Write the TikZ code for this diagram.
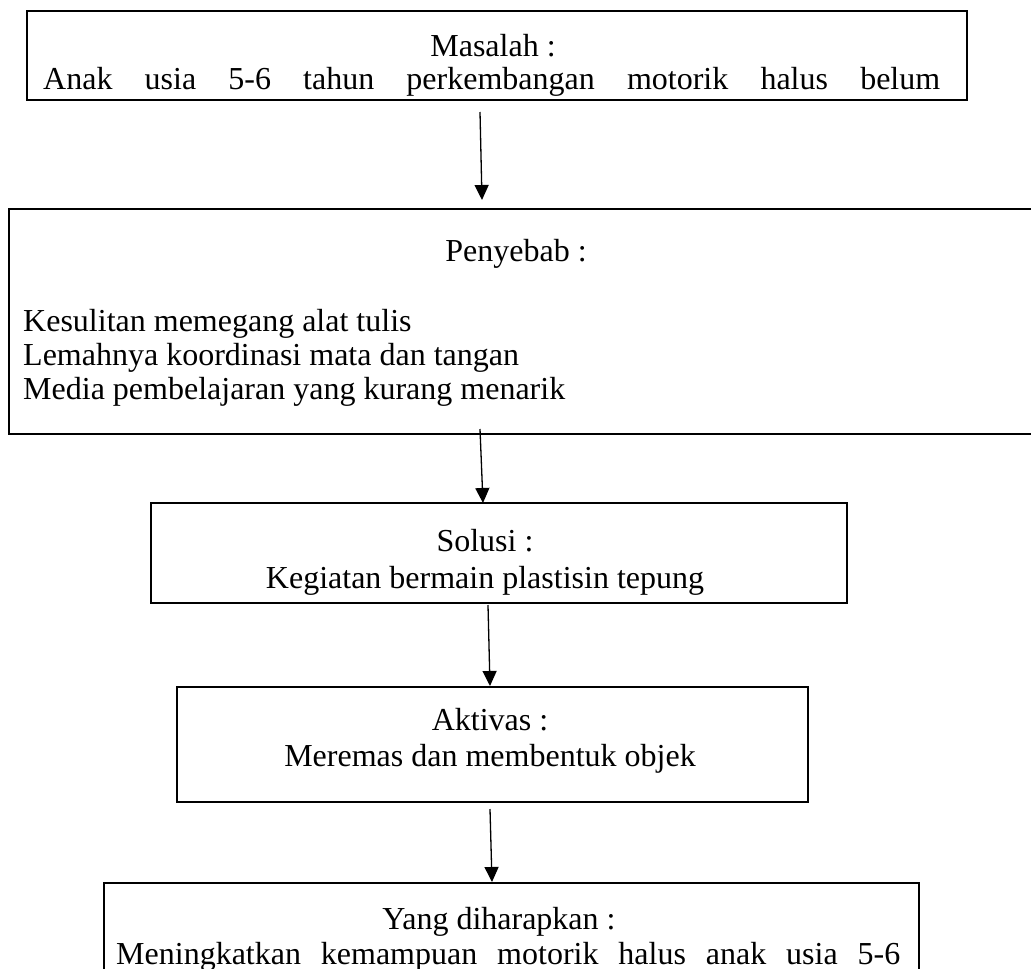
\documentclass[tikz,border=0pt]{standalone}
\usepackage{fontspec}
\setmainfont{Liberation Serif}
\usetikzlibrary{arrows.meta}
\tikzset{
  boxline/.style={draw=black, line width=1.6pt, inner sep=0pt, anchor=north west},
  txt/.style={inner sep=0pt, font=\fontsize{32}{37}\selectfont},
  flow/.style={draw=black, line width=1.3pt, -{Triangle[width=14pt,length=15pt]}}
}
\begin{document}
\begin{tikzpicture}[x=1pt,y=-1pt]
\useasboundingbox (0,0) rectangle (1031,969);
% boxes
\node[boxline, minimum width=940pt, minimum height=89pt] (masalah) at (26,10) {};
\node[boxline, minimum width=1040pt, minimum height=225pt] (penyebab) at (8,208) {};
\node[boxline, minimum width=696pt, minimum height=100pt] (solusi) at (150,502) {};
\node[boxline, minimum width=631pt, minimum height=115pt] (aktivas) at (176,686) {};
\node[boxline, minimum width=815pt, minimum height=120pt] (harap) at (103,882) {};
% texts
\node[txt, anchor=base] (t1) at (493,56) {Masalah :};
\node[txt, anchor=base west] (t2) at (43,89) {\hbox to 897pt{Anak\hfil usia\hfil 5-6\hfil tahun\hfil perkembangan\hfil motorik\hfil halus\hfil belum}};
\node[txt, anchor=base] (t3) at (516,261) {Penyebab :};
\node[txt, anchor=base west] (t4) at (23,331) {Kesulitan memegang alat tulis};
\node[txt, anchor=base west] (t5) at (23,365) {Lemahnya koordinasi mata dan tangan};
\node[txt, anchor=base west] (t6) at (23,399) {Media pembelajaran yang kurang menarik};
\node[txt, anchor=base] (t7) at (485,551) {Solusi :};
\node[txt, anchor=base] (t8) at (485,588) {Kegiatan bermain plastisin tepung};
\node[txt, anchor=base] (t9) at (490,730) {Aktivas :};
\node[txt, anchor=base] (t10) at (490,766) {Meremas dan membentuk objek};
\node[txt, anchor=base] (t11) at (499,929) {Yang diharapkan :};
\node[txt, anchor=base west] (t12) at (116,964) {\hbox to 784pt{Meningkatkan\hfil kemampuan\hfil motorik\hfil halus\hfil anak\hfil usia\hfil 5-6}};
% arrows
\coordinate (a1s) at (480,112); \coordinate (a1e) at (482,200);
\coordinate (a2s) at (480,429); \coordinate (a2e) at (483,503);
\coordinate (a3s) at (488,605); \coordinate (a3e) at (490,686);
\coordinate (a4s) at (490,809); \coordinate (a4e) at (492,882);
\draw[flow] (a1s) -- (a1e);
\draw[flow] (a2s) -- (a2e);
\draw[flow] (a3s) -- (a3e);
\draw[flow] (a4s) -- (a4e);
\end{tikzpicture}
\end{document}
